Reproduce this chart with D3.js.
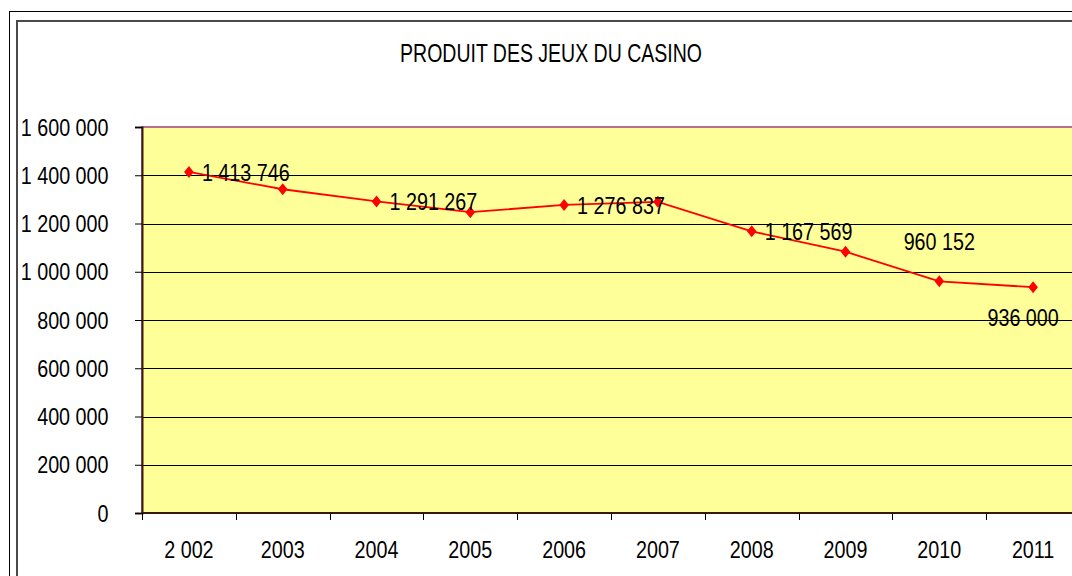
<!DOCTYPE html>
<html>
<head>
<meta charset="utf-8">
<script src="https://cdn.jsdelivr.net/npm/d3@7"></script>
<style>
  body { margin: 0; background: #fff; }
  svg text { font-family: "Liberation Sans", Arial, sans-serif; fill: #000; }
</style>
</head>
<body>
<script>
// casino chart

//chart data
var years = ["2 002", "2003", "2004", "2005", "2006", "2007", "2008", "2009", "2010", "2011"];
var produit = [1413746, 1342000, 1291267, 1247000, 1276837, 1290000, 1167569, 1083000, 960152, 936000];
var labelled = [true, false, true, false, true, false, true, false, true, true];
var yTicks = [0, 200000, 400000, 600000, 800000, 1000000, 1200000, 1400000, 1600000];
var title = "PRODUIT DES JEUX DU CASINO";

(function(){

var width = 1072, height = 576;
var plot = {left: 142, top: 127, right: 1080, bottom: 513};
var squeeze = 0.84; //text is drawn a bit narrow, like excel

var svg = d3.select("body").append("svg")
    .attr("width", width)
    .attr("height", height);

//double frame round the chart
svg.append("rect")
    .attr("x", 9.5).attr("y", 11.5)
    .attr("width", 1100).attr("height", 600)
    .attr("fill", "none").attr("stroke", "#000").attr("stroke-width", 1);
svg.append("rect")
    .attr("x", 17).attr("y", 21)
    .attr("width", 1100).attr("height", 600)
    .attr("fill", "none").attr("stroke", "#4a4a4a").attr("stroke-width", 2);

//scales
var x = d3.scaleBand()
    .domain(years)
    .range([plot.left, plot.right])
    .padding(0);
var y = d3.scaleLinear()
    .domain([0, 1600000])
    .range([plot.bottom, plot.top]);

function fmt(v){
    return d3.format(",")(v).replace(/,/g, " ");
}

//narrow text helper: put the text in a group and squeeze it
function narrowText(parent, tx, ty, str, size, k, anchor){
    var g = parent.append("g")
        .attr("transform", "translate(" + tx + "," + ty + ") scale(" + k + ",1)");
    g.append("text")
        .attr("x", 0).attr("y", 0)
        .attr("font-size", size)
        .attr("text-anchor", anchor)
        .text(str);
    return g;
}

//title
narrowText(svg, 551, 62, title, 25.5, 0.765, "middle");

//plot area
svg.append("rect")
    .attr("x", plot.left).attr("y", plot.top)
    .attr("width", plot.right - plot.left)
    .attr("height", plot.bottom - plot.top)
    .attr("fill", "#ffff99")
    .attr("stroke", "#a0407a")
    .attr("stroke-width", 1.5);

//gridlines
svg.append("g")
    .selectAll("line")
    .data(yTicks.filter(function(d){ return d > 0 && d < 1600000; }))
    .enter()
    .append("line")
    .attr("x1", plot.left).attr("x2", plot.right)
    .attr("y1", function(d){ return Math.round(y(d)) + 0.5; })
    .attr("y2", function(d){ return Math.round(y(d)) + 0.5; })
    .attr("stroke", "#000")
    .attr("stroke-width", 1);

//y axis
var yAxis = svg.append("g")
    .attr("transform", "translate(" + plot.left + ",0)")
    .call(d3.axisLeft(y).tickValues(yTicks).tickSize(7).tickFormat(""));
yAxis.select(".domain").attr("stroke", "#3a1a10").attr("stroke-width", 2);
yAxis.selectAll(".tick line").attr("stroke", "#000");
yTicks.forEach(function(t){
    narrowText(svg, 108.5, y(t) + 8.6, fmt(t), 23.5, squeeze, "end");
});

//x axis, ticks on the category boundaries
var xAxis = svg.append("g")
    .attr("transform", "translate(0," + plot.bottom + ")");
xAxis.append("line")
    .attr("x1", plot.left).attr("x2", plot.right)
    .attr("y1", 0).attr("y2", 0)
    .attr("stroke", "#3a1a10").attr("stroke-width", 2);
xAxis.selectAll(".tk")
    .data(years)
    .enter()
    .append("line")
    .attr("class", "tk")
    .attr("x1", function(d){ return Math.round(x(d)) + 0.5; })
    .attr("x2", function(d){ return Math.round(x(d)) + 0.5; })
    .attr("y1", 0).attr("y2", 7)
    .attr("stroke", "#000");
years.forEach(function(yr){
    narrowText(svg, x(yr) + x.bandwidth() / 2, 557.5, yr, 23.5, squeeze, "middle");
});

//the line
var cx = function(i){ return x(years[i]) + x.bandwidth() / 2; };
var line = d3.line()
    .x(function(d, i){ return cx(i); })
    .y(function(d){ return y(d); });

svg.append("path")
    .datum(produit)
    .attr("d", line)
    .attr("fill", "none")
    .attr("stroke", "#ff0000")
    .attr("stroke-width", 1.8);

//diamond markers
var diamond = "M0,-6L4.8,0L0,6L-4.8,0Z";
svg.selectAll(".marker")
    .data(produit)
    .enter()
    .append("path")
    .attr("class", "marker")
    .attr("d", diamond)
    .attr("transform", function(d, i){ return "translate(" + cx(i) + "," + y(d) + ")"; })
    .attr("fill", "#ff0000");

//value labels
produit.forEach(function(v, i){
    if (!labelled[i]) return;
    var px = cx(i), py = y(v);
    if (i == produit.length - 1){
        narrowText(svg, px - 10, py + 38.8, fmt(v), 23.5, squeeze, "middle");
    } else if (i == produit.length - 2){
        narrowText(svg, px, py - 31, fmt(v), 23.5, squeeze, "middle");
    } else {
        narrowText(svg, px + 13, py + 8.6, fmt(v), 23.5, squeeze, "start");
    }
});

})();
</script>
</body>
</html>
